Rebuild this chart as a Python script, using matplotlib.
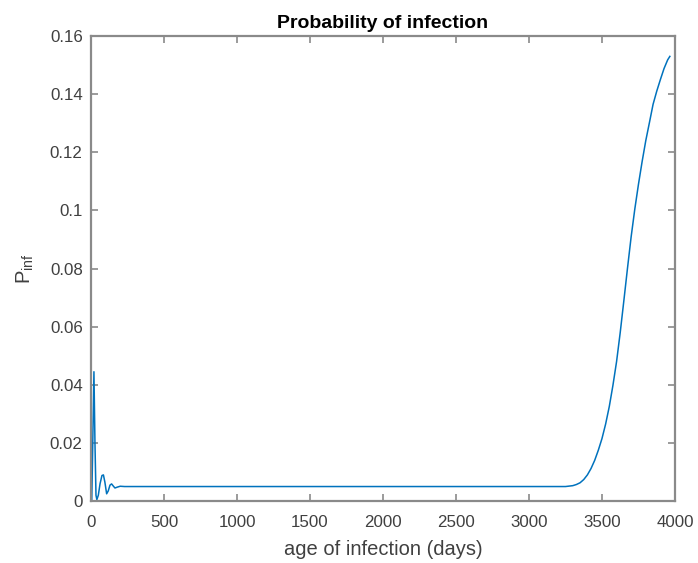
import matplotlib
matplotlib.use("Agg")
import matplotlib.pyplot as plt
from matplotlib import rcParams

rcParams['font.family'] = ['Liberation Sans', 'DejaVu Sans']
rcParams['mathtext.fontset'] = 'custom'
rcParams['mathtext.rm'] = 'Liberation Sans'

#================================================================================================#
## infection probability vs age of infection
age_early = [0, 5, 12, 20, 27, 34, 40, 50, 62, 75, 85, 95, 107, 118, 130, 141, 152, 164, 180, 200, 230]
p_early = [0.0, 0.0, 0.020, 0.0445, 0.020, 0.002, 0.0005, 0.002, 0.006, 0.0088, 0.009, 0.0065,
           0.0025, 0.0035, 0.0055, 0.0059, 0.0052, 0.0045, 0.0048, 0.0051, 0.0050]

age_late = [3200, 3250, 3300, 3325, 3350, 3375, 3400, 3425, 3450, 3475, 3500, 3525, 3550, 3575,
            3600, 3625, 3650, 3675, 3700, 3725, 3750, 3775, 3800, 3825, 3850, 3875, 3900,
            3925, 3950, 3965]
p_late = [0.0050, 0.0050, 0.0053, 0.0057, 0.0063, 0.0074, 0.0090, 0.0112, 0.0140, 0.0175,
          0.0215, 0.0265, 0.0325, 0.0398, 0.0480, 0.0580, 0.0690, 0.0802, 0.0910, 0.1005,
          0.1090, 0.1168, 0.1240, 0.1302, 0.1365, 0.1410, 0.1450, 0.1488, 0.1518, 0.1530]

age = age_early + age_late
p_inf = p_early + p_late

x_ticks = [0, 500, 1000, 1500, 2000, 2500, 3000, 3500, 4000]
y_ticks = [0, 0.02, 0.04, 0.06, 0.08, 0.1, 0.12, 0.14, 0.16]
y_tick_labels = ['0', '0.02', '0.04', '0.06', '0.08', '0.1', '0.12', '0.14', '0.16']

#================================================================================================#
axis_gray = '#8a8a8a'
text_gray = '#404040'

fig = plt.figure(figsize=(6.98, 5.63), dpi=100)
ax = fig.add_axes([0.1304, 0.110, 0.8366, 0.826])
ax.plot(age, p_inf, color='#0072BD', linewidth=1.1)

ax.set_xlim(0, 4000)
ax.set_ylim(0, 0.16)
ax.set_xticks(x_ticks)
ax.set_yticks(y_ticks)
ax.set_yticklabels(y_tick_labels)
ax.tick_params(direction='in', length=5, width=1.2, color=axis_gray, labelcolor=text_gray,
               labelsize=12.2, top=True, right=True)
ax.tick_params(axis='x', pad=10)
ax.tick_params(axis='y', pad=6)
for sp in ax.spines.values():
    sp.set_color(axis_gray)
    sp.set_linewidth(1.6)

ax.set_title('Probability of infection', fontsize=14, fontweight='bold', color='black', pad=6)
ax.set_xlabel('age of infection (days)', fontsize=14.5, color=text_gray, labelpad=7)
ax.set_ylabel(r'P$_{\mathregular{inf}}$', fontsize=14.5, color=text_gray, labelpad=10)

fig.savefig('out.png', dpi=100)
